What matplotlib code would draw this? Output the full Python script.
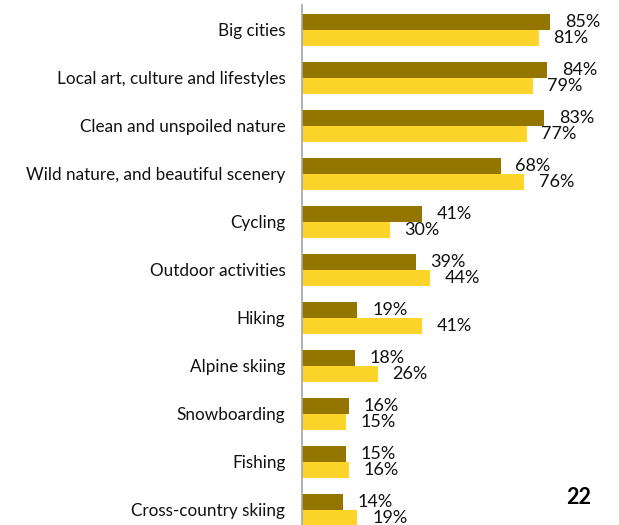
import numpy as np
import matplotlib.pyplot as plt

plt.rcParams['font.family'] = ['Lato', 'DejaVu Sans']

categories = [
    "Big cities",
    "Local art, culture and lifestyles",
    "Clean and unspoiled nature",
    "Wild nature, and beautiful scenery",
    "Cycling",
    "Outdoor activities",
    "Hiking",
    "Alpine skiing",
    "Snowboarding",
    "Fishing",
    "Cross-country skiing",
]
series_a = [85, 84, 83, 68, 41, 39, 19, 18, 16, 15, 14]
series_b = [81, 79, 77, 76, 30, 44, 41, 26, 15, 16, 19]

dark = "#937500"
yellow = "#FDD42A"

fig = plt.figure(figsize=(6.19, 5.25), dpi=100)
ax = fig.add_axes([302 / 619, -9 / 525, 292 / 619, 529 / 525])

y = np.arange(len(categories))
h = 1 / 3
ax.barh(y - h / 2, series_a, height=h, color=dark)
ax.barh(y + h / 2, series_b, height=h, color=yellow)

for yi, a, b in zip(y, series_a, series_b):
    ax.text(a + 5, yi - h / 2, f"{a}%", va="center", ha="left",
            fontsize=13, color="#111111", clip_on=False)
    ax.text(b + 5, yi + h / 2, f"{b}%", va="center", ha="left",
            fontsize=13, color="#111111", clip_on=False)

ax.set_xlim(0, 100)
ax.set_ylim(10.5, -0.52)
ax.set_yticks(y)
ax.set_yticklabels(categories, fontsize=12.3, color="#111111")
ax.tick_params(axis="y", length=0, pad=12)
ax.set_xticks([])
for side in ["top", "right", "bottom"]:
    ax.spines[side].set_visible(False)
ax.spines["left"].set_color("#A6A6A6")
ax.spines["left"].set_linewidth(1.2)

fig.text(579 / 619, 1 - 498 / 525, "22", fontsize=15.5, fontweight="bold",
         ha="center", va="center", color="black")

fig.savefig("out.png", dpi=100)
